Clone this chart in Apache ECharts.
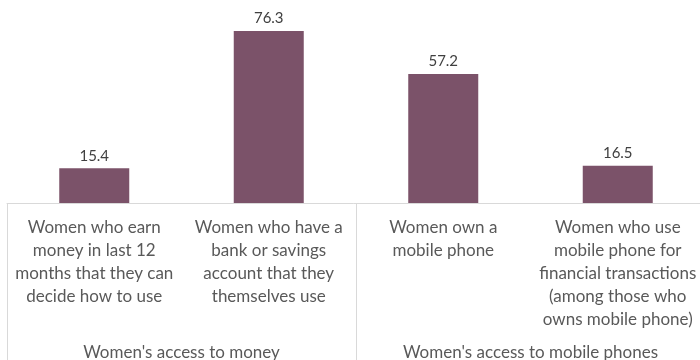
<!DOCTYPE html>
<html>
<head>
<meta charset="utf-8">
<script src="https://cdn.jsdelivr.net/npm/echarts@6/dist/echarts.min.js"></script>
<style>html,body{margin:0;padding:0;background:#fff}#c{width:700px;height:360px}</style>
</head>
<body>
<div id="c"></div>
<script>
const categories = [
  "Women who earn\nmoney in last 12\nmonths that they can\ndecide how to use",
  "Women who have a\nbank or savings\naccount that they\nthemselves use",
  "Women own a\nmobile phone",
  "Women who use\nmobile phone for\nfinancial transactions\n(among those who\nowns mobile phone)"
];
const values = [15.4, 76.3, 57.2, 16.5];
const groups = ["Women's access to money", "Women's access to mobile phones"];

const chart = echarts.init(document.getElementById('c'));
chart.setOption({
  animation: false,
  grid: { left: 7, width: 698, top: 0, bottom: 157, containLabel: false, outerBoundsMode: 'none' },
  xAxis: [
    {
      type: 'category', data: categories, position: 'bottom',
      axisLine: { show: true, lineStyle: { color: '#d9d9d9', width: 1 } },
      axisTick: { show: false },
      axisLabel: { interval: 0, margin: 13, color: '#595959', fontFamily: 'Lato', fontSize: 17, lineHeight: 23, align: 'center' }
    },
    {
      type: 'category', data: groups, position: 'bottom',
      axisLine: { show: false },
      axisTick: { show: true, interval: 0, length: 160, lineStyle: { color: '#d9d9d9', width: 1 } },
      axisLabel: { interval: 0, margin: 139, color: '#595959', fontFamily: 'Lato', fontSize: 17, lineHeight: 22 }
    }
  ],
  yAxis: { type: 'value', min: 0, max: 90, show: false, splitLine: { show: false } },
  series: [{
    type: 'bar', xAxisIndex: 0, data: values, barWidth: 70,
    itemStyle: { color: '#7B5269' },
    label: { show: true, position: 'top', distance: 5, color: '#404040', fontFamily: 'Lato', fontSize: 15, formatter: p => p.value.toFixed(1) }
  }]
});
</script>
</body>
</html>
